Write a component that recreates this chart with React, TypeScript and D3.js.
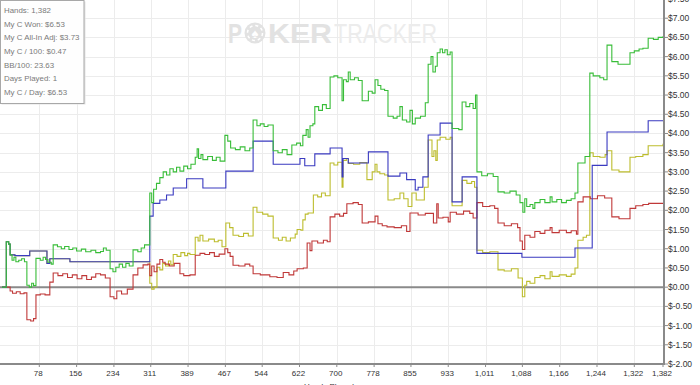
import * as d3 from 'd3';
import { useEffect, useRef } from 'react';

type Pt = [number, number];

// hands at which the bottom axis is labelled
const handTicks = [78, 156, 234, 311, 389, 467, 544, 622, 700, 778, 855, 933, 1011, 1088, 1166, 1244, 1322, 1382];
const dollarTicks = [-2, -1.5, -1, -0.5, 0, 0.5, 1, 1.5, 2, 2.5, 3, 3.5, 4, 4.5, 5, 5.5, 6, 6.5, 7, 7.5];

const statLines = [
  'Hands: 1,382',
  'My C Won: $6.53',
  'My C All-In Adj: $3.73',
  'My C / 100: $0.47',
  'BB/100: 23.63',
  'Days Played: 1',
  'My C / Day: $6.53',
];

// [hand, dollars] – value holds until the next hand listed
const wonSeries: Pt[] = [
  [0, 0], [9, 1.18], [14, 1.12], [17, 0.84], [21, 0.7], [25, 0.78], [29, 0.66], [35, 0.7], [41, 0.74], [47, 0.66],
  [52, 0.05], [57, 0.0], [62, 0.1], [66, 0.04], [71, 0.75], [80, 0.7], [86, 0.78], [91, 0.72], [96, 0.65], [103, 0.6],
  [107, 1.1], [116, 1.05], [124, 1.0], [131, 1.06], [140, 0.98], [148, 1.02], [156, 0.94], [166, 0.99], [175, 0.92],
  [186, 0.96], [196, 0.9], [206, 0.93], [212, 1.02], [218, 0.96], [226, 0.48], [232, 0.4], [238, 0.52], [245, 0.6],
  [252, 0.52], [259, 0.62], [266, 0.55], [274, 0.97], [284, 0.92], [291, 1.02], [298, 1.1], [309, 2.45], [313, 2.2],
  [317, 2.55], [323, 2.7], [330, 2.85], [337, 3.0], [344, 2.92], [351, 3.08], [358, 3.0], [365, 3.12], [372, 3.02],
  [380, 3.15], [388, 3.08], [395, 3.2], [404, 3.38], [408, 3.6], [411, 3.35], [416, 3.45], [420, 3.32], [430, 3.4],
  [440, 3.3], [448, 3.38], [456, 3.28], [466, 3.95], [472, 3.8], [478, 3.62], [488, 3.58], [498, 3.65], [508, 3.55],
  [518, 3.62], [525, 4.35], [533, 4.2], [540, 4.25], [548, 4.18], [556, 4.22], [567, 3.55], [577, 3.5], [586, 3.58],
  [596, 3.45], [606, 3.7], [616, 3.75], [624, 3.68], [629, 3.95], [636, 4.1], [640, 3.9], [644, 4.2], [650, 4.25],
  [654, 4.7], [662, 4.6], [670, 4.75], [678, 4.65], [686, 5.47], [694, 5.5], [702, 5.45], [711, 4.85], [714, 5.4],
  [720, 5.35], [724, 5.6], [728, 5.4], [737, 5.45], [745, 5.38], [753, 4.85], [766, 5.1], [774, 5.05], [780, 5.4],
  [786, 5.25], [792, 5.15], [800, 5.12], [807, 4.45], [818, 4.4], [826, 4.45], [832, 4.7], [837, 4.35], [846, 4.3],
  [853, 4.6], [858, 4.25], [864, 4.4], [875, 4.45], [885, 4.8], [891, 5.8], [897, 6.0], [901, 5.6], [906, 5.75],
  [910, 6.1], [916, 6.2], [921, 6.1], [926, 6.18], [931, 6.05], [937, 6.12], [941, 4.13], [955, 4.1], [962, 4.82],
  [970, 4.7], [978, 4.78], [985, 4.65], [990, 5.0], [993, 3.0], [1003, 2.9], [1015, 2.95], [1027, 2.88], [1037, 2.48],
  [1050, 2.45], [1062, 2.5], [1075, 2.4], [1083, 2.2], [1089, 1.95], [1093, 2.3], [1097, 2.1], [1104, 2.15],
  [1110, 2.05], [1114, 2.2], [1125, 2.28], [1135, 2.2], [1146, 2.35], [1150, 2.22], [1160, 2.28], [1170, 2.2],
  [1180, 2.26], [1190, 2.3], [1198, 2.45], [1204, 3.23], [1219, 3.4], [1229, 5.57], [1236, 5.5], [1250, 5.45],
  [1258, 5.4], [1265, 6.3], [1275, 5.87], [1288, 5.8], [1313, 6.1], [1322, 6.15], [1332, 6.2], [1340, 6.22],
  [1351, 6.48], [1362, 6.45], [1372, 6.5], [1382, 6.53],
];

const showdownSeries: Pt[] = [
  [0, 0], [9, 1.18], [14, 1.12], [17, 0.84], [27, 0.82], [58, 0.94], [94, 0.62], [100, 0.74], [142, 0.66],
  [309, 1.85], [316, 2.18], [330, 2.27], [344, 2.4], [358, 2.58], [386, 2.82], [420, 2.58], [468, 3.02], [525, 3.8],
  [567, 3.2], [623, 3.35], [633, 3.16], [654, 3.47], [686, 3.62], [711, 2.87], [713, 3.35], [724, 3.23], [766, 3.52],
  [807, 2.89], [832, 2.97], [846, 2.8], [864, 2.53], [870, 2.6], [880, 2.87], [891, 3.96], [916, 4.27], [941, 2.22],
  [962, 2.87], [993, 0.88], [1087, 0.78], [1198, 1.02], [1234, 3.17], [1265, 4.04], [1351, 4.33], [1382, 4.33],
];

const allInSeries: Pt[] = [
  [0, 0], [9, 1.18], [14, 1.12], [17, 0.84], [27, 0.82], [58, 0.94], [94, 0.62], [100, 0.74], [142, 0.66],
  [309, 0.1], [313, -0.05], [318, 0.0], [324, 0.52], [330, 0.45], [336, 0.62], [342, 0.55], [348, 0.68], [353, 0.58],
  [358, 0.85], [366, 0.8], [374, 0.9], [382, 0.82], [388, 0.88], [393, 0.85], [404, 1.3], [410, 1.2], [414, 1.35],
  [420, 1.2], [432, 1.25], [444, 1.18], [452, 1.22], [460, 1.05], [468, 1.67], [476, 1.55], [483, 1.35], [495, 1.32],
  [505, 1.4], [515, 1.33], [525, 2.08], [533, 1.95], [545, 1.9], [556, 1.85], [567, 1.28], [578, 1.22], [586, 1.3],
  [594, 1.2], [603, 1.28], [613, 1.38], [617, 1.5], [625, 1.48], [629, 1.75], [634, 1.9], [640, 1.93], [651, 2.4],
  [660, 2.35], [668, 2.45], [676, 2.38], [686, 3.23], [694, 3.18], [702, 3.25], [711, 2.6], [713, 3.3], [720, 3.35],
  [724, 3.22], [735, 3.2], [748, 3.24], [763, 2.8], [774, 3.0], [780, 3.2], [784, 3.0], [790, 2.95], [800, 2.92],
  [807, 2.27], [820, 2.3], [832, 2.45], [840, 2.3], [849, 2.1], [857, 2.45], [866, 2.27], [883, 2.6], [891, 3.83],
  [899, 3.4], [903, 3.55], [907, 3.3], [910, 3.83], [916, 3.9], [928, 3.85], [937, 3.9], [941, 2.12], [962, 2.78],
  [972, 2.7], [982, 2.75], [988, 2.6], [993, 0.96], [1005, 0.9], [1020, 0.92], [1037, 0.45], [1050, 0.42],
  [1065, 0.48], [1079, 0.24], [1088, -0.25], [1093, 0.05], [1097, 0.15], [1104, 0.1], [1114, 0.25], [1125, 0.3],
  [1135, 0.22], [1146, 0.4], [1150, 0.28], [1165, 0.32], [1180, 0.28], [1190, 0.34], [1198, 0.5], [1204, 1.22],
  [1215, 1.3], [1222, 1.35], [1229, 3.5], [1236, 3.4], [1250, 3.38], [1261, 3.45], [1265, 3.55], [1275, 3.05],
  [1290, 3.0], [1313, 3.38], [1325, 3.4], [1340, 3.45], [1351, 3.68], [1382, 3.73],
];

const nonShowdownSeries: Pt[] = [
  [0, 0], [17, -0.1], [22, -0.16], [30, -0.12], [38, -0.17], [46, -0.15], [52, -0.85], [60, -0.88], [66, -0.82],
  [71, -0.2], [80, -0.18], [90, -0.2], [100, 0.13], [107, 0.37], [117, 0.3], [127, 0.35], [137, 0.25], [147, 0.32],
  [157, 0.22], [167, 0.3], [177, 0.2], [187, 0.26], [196, 0.35], [206, 0.32], [216, 0.24], [226, -0.25], [234, -0.3],
  [240, -0.1], [250, -0.18], [262, -0.05], [274, 0.32], [284, 0.5], [295, 0.58], [305, 0.6], [309, 0.3], [313, 0.55],
  [318, 0.4], [324, 0.6], [330, 0.72], [336, 0.65], [341, 0.6], [350, 0.55], [360, 0.62], [372, 0.35], [380, 0.3],
  [393, 0.32], [404, 0.83], [414, 0.88], [424, 0.85], [434, 0.9], [444, 0.8], [454, 0.86], [466, 1.0], [472, 0.9],
  [477, 0.8], [483, 0.57], [495, 0.55], [508, 0.6], [518, 0.55], [525, 0.35], [540, 0.32], [560, 0.27], [575, 0.25],
  [588, 0.38], [600, 0.32], [610, 0.42], [617, 0.48], [630, 0.5], [638, 1.15], [644, 0.95], [648, 1.2], [660, 1.15],
  [672, 1.22], [680, 1.18], [686, 1.83], [696, 1.9], [706, 1.85], [714, 1.92], [721, 2.17], [734, 2.2], [745, 2.15],
  [753, 1.67], [766, 1.7], [780, 1.85], [786, 1.65], [795, 1.6], [805, 1.57], [820, 1.55], [835, 1.6], [846, 1.45],
  [853, 1.93], [870, 1.88], [885, 1.92], [902, 1.67], [909, 2.17], [912, 1.8], [922, 1.82], [933, 1.7], [937, 1.95],
  [950, 1.9], [965, 1.98], [978, 1.92], [985, 1.8], [993, 2.2], [1005, 2.1], [1020, 2.12], [1030, 2.05], [1037, 1.67],
  [1050, 1.6], [1065, 1.65], [1078, 1.55], [1083, 1.2], [1088, 0.98], [1093, 1.35], [1104, 1.3], [1114, 1.45],
  [1125, 1.4], [1135, 1.48], [1146, 1.55], [1150, 1.42], [1165, 1.48], [1180, 1.42], [1190, 1.47], [1201, 1.38],
  [1204, 2.22], [1215, 2.35], [1230, 2.3], [1245, 2.38], [1260, 2.32], [1275, 1.83], [1290, 1.78], [1313, 2.05],
  [1325, 2.12], [1340, 2.15], [1352, 2.18], [1382, 2.18],
];

const FONT = '"Liberation Sans", Arial, sans-serif';

const App = () => {
  const ref = useRef<SVGSVGElement>(null);

  useEffect(() => {
    document.body.style.margin = '0';
    const svg = d3.select(ref.current);
    svg.selectAll('*').remove();

    const left = 2, right = 663, top = -1, bottom = 364;
    const x = d3.scaleLinear().domain([0, 1382]).range([left, right]);
    const y = d3.scaleLinear().domain([-2, 7.5]).range([bottom, top]);

    svg.append('rect').attr('width', 700).attr('height', 385).attr('fill', '#fff');

    // grid
    const grid = svg.append('g').attr('stroke', '#ececec').attr('stroke-width', 1);
    grid.selectAll('line.h').data(dollarTicks).enter().append('line')
      .attr('x1', 0).attr('x2', right)
      .attr('y1', d => Math.round(y(d)) + 0.5).attr('y2', d => Math.round(y(d)) + 0.5);
    grid.selectAll('line.v').data(handTicks.slice(0, -1)).enter().append('line')
      .attr('y1', 0).attr('y2', bottom)
      .attr('x1', d => Math.round(x(d)) + 0.5).attr('x2', d => Math.round(x(d)) + 0.5);

    // watermark
    const wm = svg.append('g').attr('font-family', FONT);
    wm.append('text').attr('x', 228).attr('y', 43).attr('font-size', 28).attr('font-weight', 'bold')
      .attr('fill', '#e2e2e2').attr('textLength', 14).attr('lengthAdjust', 'spacingAndGlyphs').text('P');
    wm.append('circle').attr('cx', 255).attr('cy', 33).attr('r', 10.5).attr('fill', '#e2e2e2');
    wm.append('circle').attr('cx', 255).attr('cy', 33).attr('r', 7.5).attr('fill', 'none')
      .attr('stroke', '#fff').attr('stroke-width', 1.5).attr('stroke-dasharray', '3 2.9');
    wm.append('text').attr('x', 255).attr('y', 37.5).attr('font-size', 13).attr('text-anchor', 'middle')
      .attr('fill', '#fff').text('\u2660');
    wm.append('text').attr('x', 268).attr('y', 43).attr('font-size', 28).attr('font-weight', 'bold')
      .attr('fill', '#e2e2e2').attr('textLength', 64).attr('lengthAdjust', 'spacingAndGlyphs').text('KER');
    wm.append('text').attr('x', 334).attr('y', 43).attr('font-size', 28)
      .attr('fill', '#ececec').attr('textLength', 103).attr('lengthAdjust', 'spacingAndGlyphs').text('TRACKER');

    // zero line
    svg.append('line').attr('x1', 0).attr('x2', right).attr('y1', y(0)).attr('y2', y(0))
      .attr('stroke', '#8a8a8a').attr('stroke-width', 2);

    const line = d3.line<Pt>().x(d => x(d[0])).y(d => y(d[1])).curve(d3.curveStepAfter);
    const series: [Pt[], string][] = [
      [allInSeries, '#bdbd2e'],
      [nonShowdownSeries, '#c03838'],
      [showdownSeries, '#3a3ac0'],
      [wonSeries, '#38bd38'],
    ];
    svg.selectAll('path.s').data(series).enter().append('path')
      .attr('d', d => line(d[0]))
      .attr('fill', 'none')
      .attr('stroke', d => d[1])
      .attr('stroke-width', 1.1);

    // right axis
    const yAxis = svg.append('g').attr('font-family', FONT).attr('font-size', 8.5).attr('fill', '#333');
    yAxis.append('line').attr('x1', right + 1).attr('x2', right + 1).attr('y1', 0).attr('y2', bottom + 1)
      .attr('stroke', '#8a8a8a').attr('stroke-width', 2);
    yAxis.selectAll('line.t').data(dollarTicks).enter().append('line')
      .attr('x1', right + 2).attr('x2', right + 5)
      .attr('y1', d => y(d)).attr('y2', d => y(d)).attr('stroke', '#8a8a8a');
    yAxis.selectAll('text').data(dollarTicks).enter().append('text')
      .attr('x', right + 5).attr('y', d => y(d)).attr('dy', '0.35em')
      .text(d => `$${d.toFixed(2)}`);

    // bottom axis
    const xAxis = svg.append('g').attr('font-family', FONT).attr('font-size', 8).attr('fill', '#333');
    xAxis.append('line').attr('x1', 0).attr('x2', right + 2).attr('y1', bottom).attr('y2', bottom)
      .attr('stroke', '#8a8a8a').attr('stroke-width', 2);
    xAxis.selectAll('line.t').data(handTicks).enter().append('line')
      .attr('x1', d => x(d)).attr('x2', d => x(d)).attr('y1', bottom + 1).attr('y2', bottom + 3)
      .attr('stroke', '#8a8a8a');
    xAxis.selectAll('text').data(handTicks).enter().append('text')
      .attr('x', d => x(d) - 1).attr('y', bottom + 12).attr('text-anchor', 'middle')
      .text(d => d3.format(',')(d));
    xAxis.append('text').attr('x', 329).attr('y', 389).attr('text-anchor', 'middle').text('Hands Played');

    // stats box
    const box = svg.append('g').attr('font-family', FONT);
    box.append('rect').attr('x', 1.5).attr('y', 1.5).attr('width', 84).attr('height', 103).attr('fill', '#e4e4e4');
    box.append('rect').attr('x', 0.5).attr('y', 0.5).attr('width', 83.5).attr('height', 103)
      .attr('fill', '#fff').attr('fill-opacity', 0.95).attr('stroke', '#a8a8a8');
    box.selectAll('text').data(statLines).enter().append('text')
      .attr('x', 4).attr('y', (_, i) => 12.8 + i * 13.7)
      .attr('font-size', 7.9).attr('fill', '#7a7a7a')
      .text(d => d);
  }, []);

  return <svg ref={ref} width={700} height={385} style={{ display: 'block' }} />;
};

export default App;
